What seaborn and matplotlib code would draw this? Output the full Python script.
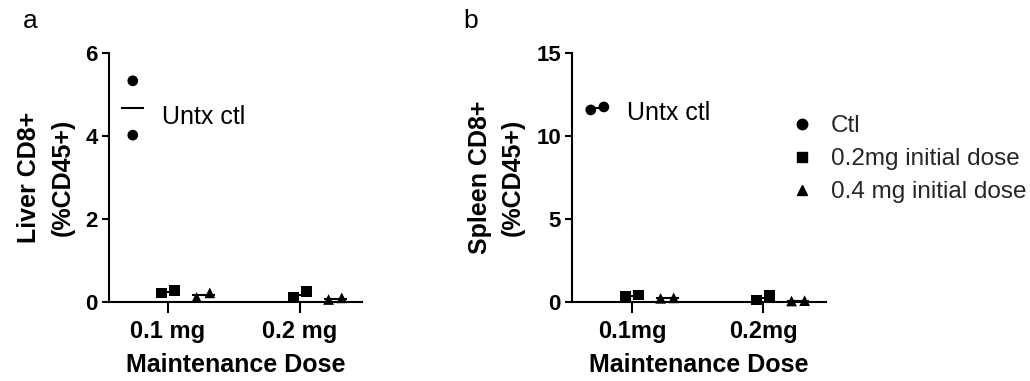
import numpy as np
import pandas as pd
import seaborn as sns
import matplotlib
matplotlib.use("Agg")
import matplotlib.pyplot as plt
from matplotlib.lines import Line2D

# ---------------- data ----------------
groups = ["Ctl", "0.2mg initial dose", "0.4 mg initial dose"]
group_markers = ["o", "s", "^"]

liver_doses = ["0.1 mg", "0.2 mg"]
liver_ctl = [5.33, 4.02]                       # untreated control (shown at first dose)
liver_init02 = [[0.22, 0.27], [0.11, 0.25]]    # per maintenance dose
liver_init04 = [[0.11, 0.22], [0.06, 0.10]]

spleen_doses = ["0.1mg", "0.2mg"]
spleen_ctl = [11.57, 11.75]
spleen_init02 = [[0.36, 0.42], [0.12, 0.38]]
spleen_init04 = [[0.22, 0.25], [0.06, 0.08]]

liver_yticks = [0, 2, 4, 6]
spleen_yticks = [0, 5, 10, 15]

# layout of the grouped scatter (GraphPad-like column spreading)
GROUP_WIDTH = 0.8 / 3
SPREAD = 0.05


def long_table(doses, ctl, init02, init04, ymax):
    sets = [(doses[0], groups[0], ctl)]
    sets += [(d, groups[1], v) for d, v in zip(doses, init02)]
    sets += [(d, groups[2], v) for d, v in zip(doses, init04)]
    rows = []
    for d, g, vals in sets:
        center = doses.index(d) + (groups.index(g) - 1) * GROUP_WIDTH
        order = np.argsort(vals)
        overlap = abs(vals[0] - vals[1]) < 0.05 * ymax
        for rank, idx in enumerate(order):
            off = (rank - 0.5) * 2 * SPREAD if overlap else 0.0
            rows.append((d, g, vals[idx], center + off, center))
    return pd.DataFrame(rows, columns=["dose", "group", "value", "x", "center"])


liver = long_table(liver_doses, liver_ctl, liver_init02, liver_init04,
                   liver_yticks[-1])
spleen = long_table(spleen_doses, spleen_ctl, spleen_init02, spleen_init04,
                    spleen_yticks[-1])

# ---------------- style ----------------
sns.set_theme(style="ticks")
plt.rcParams["font.family"] = ["Liberation Sans", "DejaVu Sans"]
plt.rcParams["axes.linewidth"] = 1.5

fig = plt.figure(figsize=(10.30, 3.81), dpi=100)
ax_a = fig.add_axes([109 / 1030, 79 / 381, 253 / 1030, 249 / 381])
ax_b = fig.add_axes([572 / 1030, 79 / 381, 254 / 1030, 249 / 381])

marker_map = dict(zip(groups, group_markers))


def draw_panel(ax, df, doses, yticks, ylabel, xlim):
    sns.scatterplot(data=df, x="x", y="value", style="group",
                    style_order=groups, markers=marker_map, color="black",
                    s=7.7 ** 2, linewidth=0, legend=False, ax=ax,
                    clip_on=False, zorder=4)
    means = df.groupby(["group", "center"], as_index=False)["value"].mean()
    ax.hlines(means["value"], means["center"] - 0.087, means["center"] + 0.087,
              color="black", linewidth=1.5, zorder=4, clip_on=False)
    ax.set_ylim(yticks[0], yticks[-1])
    ax.set_yticks(yticks)
    ax.set_xticks(range(len(doses)))
    ax.set_xticklabels(doses)
    ax.set_xlim(*xlim)
    sns.despine(ax=ax)
    for s in ("left", "bottom"):
        ax.spines[s].set_linewidth(1.5)
        ax.spines[s].set_color("black")
    ax.tick_params(axis="y", length=5, width=1.5, pad=3, labelsize=16,
                   colors="black")
    ax.tick_params(axis="x", length=8, width=1.5, pad=5, labelsize=17,
                   colors="black")
    for lbl in ax.get_xticklabels() + ax.get_yticklabels():
        lbl.set_fontweight("bold")
    ax.set_xlabel("Maintenance Dose", fontsize=18, fontweight="bold",
                  labelpad=7, color="black")
    ax.set_ylabel(ylabel, fontsize=18, fontweight="bold", labelpad=8,
                  linespacing=1.5, color="black")


draw_panel(ax_a, liver, liver_doses, liver_yticks,
           "Liver CD8+\n(%CD45+)", (-0.447, 1.47))
draw_panel(ax_b, spleen, spleen_doses, spleen_yticks,
           "Spleen CD8+\n(%CD45+)", (-0.46, 1.48))

ax_a.text(-0.045, 4.29, "Untx ctl", fontsize=18, va="baseline", ha="left",
          color="black")
ax_b.text(-0.043, 10.96, "Untx ctl", fontsize=18, va="baseline", ha="left",
          color="black")

fig.text(23 / 1030, 1 - 28 / 381, "a", fontsize=19, va="baseline",
         ha="left", color="black")
fig.text(463 / 1030, 1 - 28 / 381, "b", fontsize=19, va="baseline",
         ha="left", color="black")

handles = [Line2D([], [], marker=m, linestyle="none", color="black",
                  markersize=7.5) for m in group_markers]
fig.legend(handles, groups, loc="upper left",
           bbox_to_anchor=(790 / 1030, 1 - 115 / 381),
           frameon=False, fontsize=17.5, handlelength=1.0,
           handletextpad=0.67, labelspacing=0.46, borderpad=0,
           borderaxespad=0)

fig.savefig("out.png", dpi=100)
